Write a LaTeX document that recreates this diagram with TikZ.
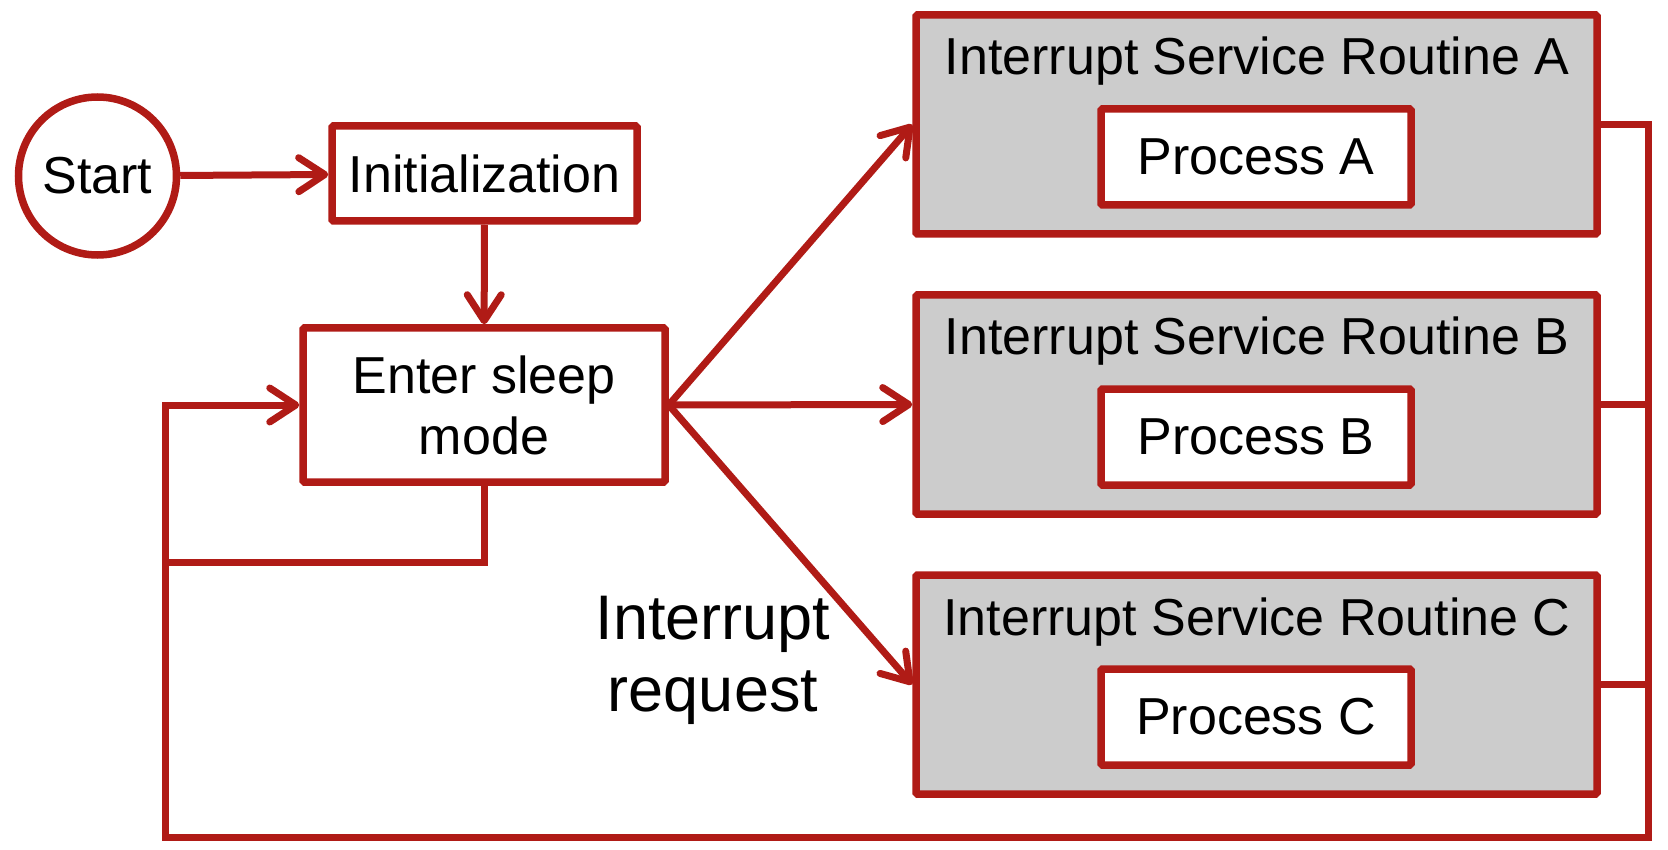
\documentclass[tikz,border=0pt]{standalone}
\usepackage{fontspec}
\setmainfont{Liberation Sans}
\usetikzlibrary{arrows.meta}
\definecolor{fcred}{RGB}{176,27,22}
\definecolor{fcgray}{RGB}{204,204,204}
\begin{document}
\begin{tikzpicture}[x=1pt,y=-1pt,
  every node/.style={font=\fontsize{52}{61}\selectfont, text=black},
  boxstyle/.style={draw=fcred, line width=7.5pt, fill=white, inner sep=0pt, rounded corners=1.5pt},
  isrbox/.style={draw=fcred, line width=7.5pt, fill=fcgray, minimum width=681pt, minimum height=219pt, inner sep=0pt, rounded corners=1.5pt},
  procbox/.style={boxstyle, minimum width=310pt, minimum height=96pt},
  conn/.style={draw=fcred, line width=7pt},
  arr/.style={conn, -{Straight Barb[length=26pt,width=34pt,round]}}
]
\useasboundingbox (0,0) rectangle (1668,850);

\node[boxstyle, circle, minimum size=158pt] (start) at (97.5,176) {Start};
\node[boxstyle, minimum width=305pt, minimum height=95pt] (init) at (484.5,173.5) {Initialization};
\node[boxstyle, minimum width=362pt, minimum height=154pt, align=center] (sleep) at (484,405) {Enter sleep\\mode};

\node[isrbox] (isrA) at (1256.5,124.5) {};
\node[isrbox] (isrB) at (1256.5,404.5) {};
\node[isrbox] (isrC) at (1256.5,684.5) {};

\node[anchor=base] (titA) at (1257,75) {Interrupt Service Routine A};
\node[anchor=base] (titB) at (1257,355) {Interrupt Service Routine B};
\node[anchor=base] (titC) at (1257,635) {Interrupt Service Routine C};

\node[procbox] (procA) at (1256,157) {Process A};
\node[procbox] (procB) at (1256,437) {Process B};
\node[procbox] (procC) at (1256,717) {Process C};

\node[font=\fontsize{63}{72}\selectfont, align=center] (irq) at (713,660) {Interrupt\\request};

\coordinate (rb) at (1648,837);
\coordinate (lb) at (165,837);
\coordinate (lm) at (165,562);

\draw[arr] (start) -- (init);
\draw[arr] (init) -- (sleep);
\draw[arr] (sleep.east) -- (isrA.west);
\draw[arr] (sleep.east) -- (isrB.west);
\draw[arr] (sleep.east) -- (isrC.west);

\draw[conn] (isrB.east) -- (isrB.east -| rb);
\draw[conn] (isrC.east) -- (isrC.east -| rb);
\draw[conn] (sleep.south) |- (lm);
\draw[arr] (isrA.east) -| (rb) -- (lb) |- (sleep.west);
\end{tikzpicture}
\end{document}
